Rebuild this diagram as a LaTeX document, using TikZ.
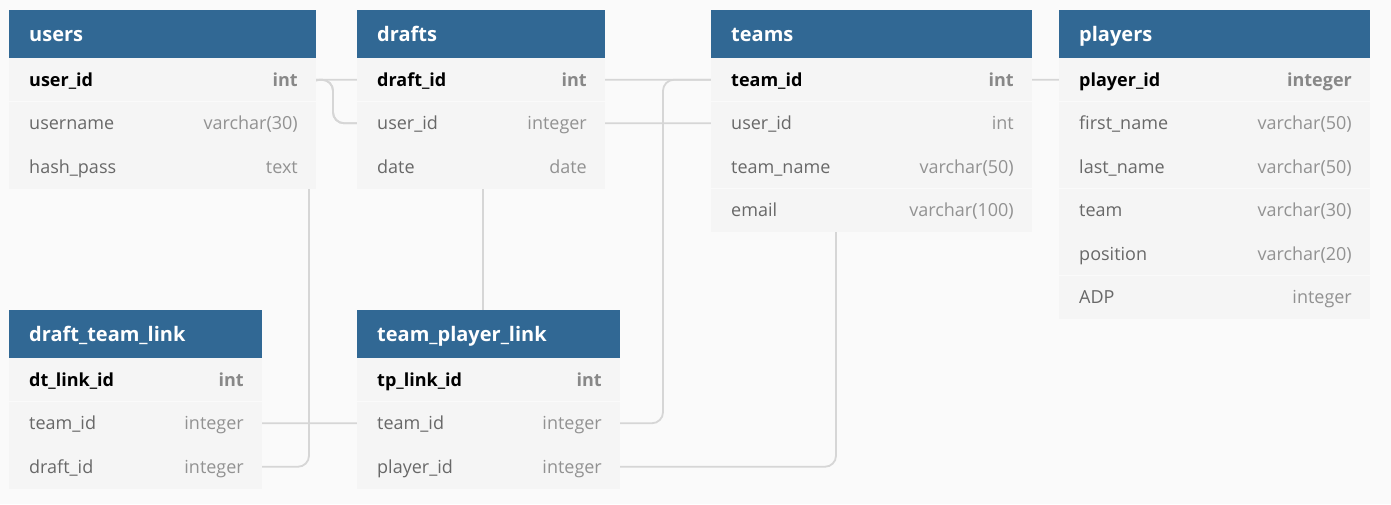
\documentclass[tikz,border=0pt]{standalone}
\usepackage{fontspec}
\setmainfont{Open Sans}
\usetikzlibrary{calc}
\definecolor{hdrblue}{RGB}{49,104,148}
\definecolor{pagebg}{RGB}{250,250,250}
\definecolor{rowbg}{RGB}{245,245,245}
\definecolor{linegray}{RGB}{214,214,214}
\definecolor{namegray}{RGB}{104,104,104}
\definecolor{typegray}{RGB}{146,146,146}
\definecolor{pktypegray}{RGB}{136,136,136}
\pgfdeclarelayer{bglayer}
\pgfdeclarelayer{linelayer}
\pgfsetlayers{bglayer,linelayer,main}
\tikzset{
  hdr/.style={fill=hdrblue, draw=none, minimum height=48pt, inner sep=0pt, outer sep=0pt},
  htitle/.style={anchor=base west, inner sep=0pt, text=white, font=\fontsize{20}{22}\selectfont\bfseries},
  rowbox/.style={fill=rowbg, draw=none, minimum height=43.5pt, minimum width=\curw, inner sep=0pt, outer sep=0pt},
  pkname/.style={anchor=base west, inner sep=0pt, text=black, font=\fontsize{18}{20}\selectfont\bfseries},
  fldname/.style={anchor=base west, inner sep=0pt, text=namegray, font=\fontsize{18}{20}\selectfont},
  pktype/.style={anchor=base east, inner sep=0pt, text=pktypegray, font=\fontsize{18}{20}\selectfont\bfseries},
  fldtype/.style={anchor=base east, inner sep=0pt, text=typegray, font=\fontsize{18}{20}\selectfont},
  rowsep/.style={draw=pagebg, line width=1pt},
  conn/.style={draw=linegray, line width=1.8pt, rounded corners=11pt}
}
\newcommand\dbhead[5]{%
  \gdef\curw{#4pt}%
  \node[hdr, minimum width=#4pt, anchor=north west] (#1) at (#2,#3) {};
  \node[htitle] at ([xshift=20pt,yshift=-7pt]#1.west) {#5};}
\newcommand\dbrow[5]{%
  \node[rowbox, anchor=north west] (#2) at (#1.south west) {};
  \node[#5name] at ([xshift=20pt,yshift=-6.5pt]#2.west) {#3};
  \node[#5type] at ([xshift=-18pt,yshift=-6.5pt]#2.east) {#4};}
\newcommand\dbsep[1]{\draw[rowsep] (#1.south west) -- (#1.south east);}
\begin{document}
\begin{tikzpicture}[x=1pt,y=-1pt]
\useasboundingbox (0,0) rectangle (1391,504);
\begin{pgfonlayer}{bglayer}
  \fill[pagebg] (0,0) rectangle (1391,504);
\end{pgfonlayer}

% users
\dbhead{users}{9}{10}{307}{users}
\dbrow{users}{users-r1}{user\_id}{int}{pk}
\dbrow{users-r1}{users-r2}{username}{varchar(30)}{fld}
\dbrow{users-r2}{users-r3}{hash\_pass}{text}{fld}
\dbsep{users-r1}

% drafts
\dbhead{drafts}{357}{10}{248}{drafts}
\dbrow{drafts}{drafts-r1}{draft\_id}{int}{pk}
\dbrow{drafts-r1}{drafts-r2}{user\_id}{integer}{fld}
\dbrow{drafts-r2}{drafts-r3}{date}{date}{fld}
\dbsep{drafts-r1}

% teams
\dbhead{teams}{711}{10}{321}{teams}
\dbrow{teams}{teams-r1}{team\_id}{int}{pk}
\dbrow{teams-r1}{teams-r2}{user\_id}{int}{fld}
\dbrow{teams-r2}{teams-r3}{team\_name}{varchar(50)}{fld}
\dbrow{teams-r3}{teams-r4}{email}{varchar(100)}{fld}
\dbsep{teams-r1}
\dbsep{teams-r3}

% players
\dbhead{players}{1059}{10}{311}{players}
\dbrow{players}{players-r1}{player\_id}{integer}{pk}
\dbrow{players-r1}{players-r2}{first\_name}{varchar(50)}{fld}
\dbrow{players-r2}{players-r3}{last\_name}{varchar(50)}{fld}
\dbrow{players-r3}{players-r4}{team}{varchar(30)}{fld}
\dbrow{players-r4}{players-r5}{position}{varchar(20)}{fld}
\dbrow{players-r5}{players-r6}{ADP}{integer}{fld}
\dbsep{players-r1}
\dbsep{players-r3}
\dbsep{players-r5}

% draft_team_link
\dbhead{dtl}{9}{310}{253}{draft\_team\_link}
\dbrow{dtl}{dtl-r1}{dt\_link\_id}{int}{pk}
\dbrow{dtl-r1}{dtl-r2}{team\_id}{integer}{fld}
\dbrow{dtl-r2}{dtl-r3}{draft\_id}{integer}{fld}
\dbsep{dtl-r1}

% team_player_link
\dbhead{tpl}{357}{310}{263}{team\_player\_link}
\dbrow{tpl}{tpl-r1}{tp\_link\_id}{int}{pk}
\dbrow{tpl-r1}{tpl-r2}{team\_id}{integer}{fld}
\dbrow{tpl-r2}{tpl-r3}{player\_id}{integer}{fld}
\dbsep{tpl-r1}

% connectors (behind tables)
\begin{pgfonlayer}{linelayer}
  \draw[conn] (users-r1.east) -- ++(17,0) |- (drafts-r2.west);
  \draw[conn] (users-r1.east) -- ++(17,0) |- (teams-r2.west);
  \draw[conn] (dtl-r3.east) -- ++(47,0) |- (drafts-r1.west);
  \draw[conn] (dtl-r2.east) -- ++(221,0) |- (teams-r1.west);
  \draw[conn] (tpl-r2.east) -- ++(43,0) |- (teams-r1.west);
  \draw[conn] (tpl-r3.east) -- ++(216,0) |- (players-r1.west);
\end{pgfonlayer}
\end{tikzpicture}
\end{document}
